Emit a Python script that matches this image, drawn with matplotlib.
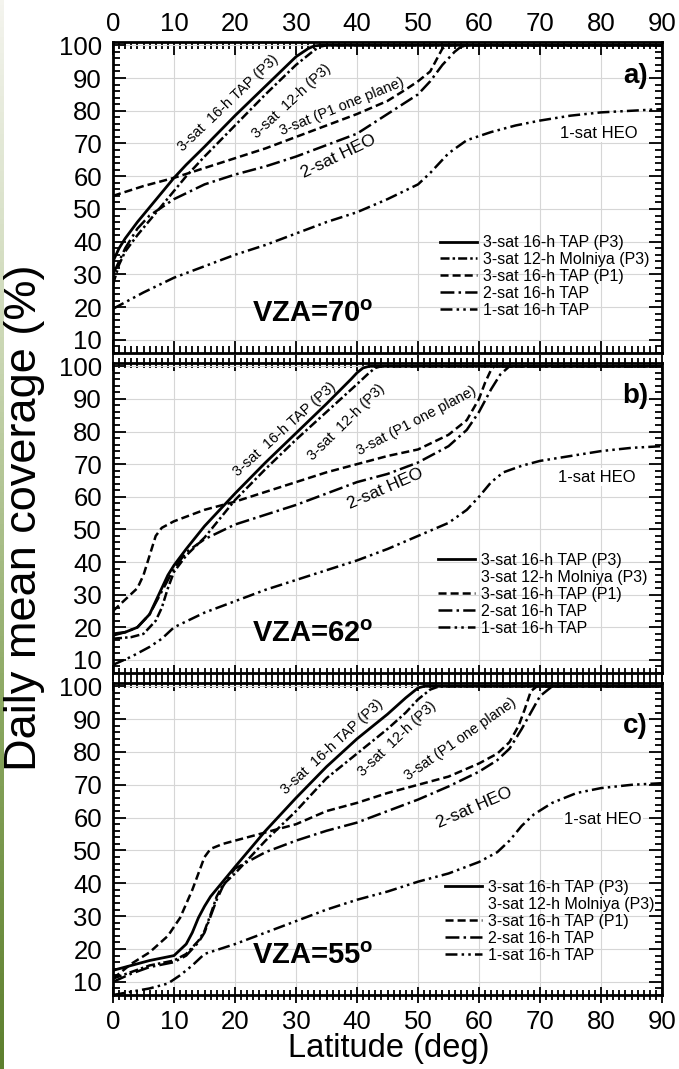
import matplotlib.pyplot as plt
from matplotlib.lines import Line2D
from matplotlib.ticker import MultipleLocator
from matplotlib.colors import LinearSegmentedColormap
import numpy as np

plt.rcParams['font.family'] = ['Liberation Sans', 'DejaVu Sans']
plt.rcParams['mathtext.fontset'] = 'custom'
plt.rcParams['mathtext.rm'] = 'Liberation Sans'
plt.rcParams['mathtext.bf'] = 'Liberation Sans:bold'
plt.rcParams['lines.scale_dashes'] = False

# ---- panel a) VZA=70 ----
a_tap3_lat = [0, 1, 2, 4, 6, 8, 10, 12, 15, 20, 25, 30, 32, 33, 34, 90]
a_tap3_cov = [34, 38, 41, 46, 50.5, 55, 59.5, 63.5, 69, 78.5, 87.5, 96.5, 99, 99.8, 100, 100]
a_mol_lat = [0, 1, 2, 4, 6, 8, 10, 12, 15, 20, 25, 30, 33, 34, 35, 90]
a_mol_cov = [27, 33, 37, 42, 46.5, 51, 55.5, 60, 66, 75.5, 85, 94, 98.5, 99.6, 100, 100]
a_p1_lat = [0, 5, 10, 15, 20, 25, 30, 35, 40, 45, 48, 50, 52, 53, 54, 55, 90]
a_p1_cov = [54, 57, 59.5, 62.5, 65.5, 68.5, 72, 75.5, 79, 83, 86.5, 89, 92, 95.5, 99, 100, 100]
a_two_lat = [0, 1, 2, 4, 6, 8, 10, 15, 20, 25, 30, 35, 40, 45, 50, 52, 54, 56, 57, 58, 90]
a_two_cov = [30, 34, 38, 44, 48, 50.5, 53, 57.5, 60.5, 63, 66, 69.5, 73, 79, 85, 89, 94, 98, 99.5, 100, 100]
a_one_lat = [0, 5, 10, 15, 20, 25, 30, 35, 40, 45, 50, 52, 55, 58, 62, 66, 70, 75, 80, 85, 90]
a_one_cov = [19.5, 24.5, 29, 32.5, 36, 39, 42.5, 46, 49, 53, 57.5, 61, 67, 71, 73.5, 75.5, 77, 78.5, 79.5, 80, 80.5]

# ---- panel b) VZA=62 ----
b_tap3_lat = [0, 2, 4, 6, 7, 8, 9, 10, 12, 15, 20, 25, 30, 35, 39, 40, 41, 42, 90]
b_tap3_cov = [18, 18.5, 20, 24, 28, 32, 36, 39, 44, 51, 61, 70.5, 79.5, 88.5, 96, 98, 99.5, 100, 100]
b_mol_lat = [0, 3, 5, 7, 8, 9, 10, 12, 15, 20, 25, 30, 35, 40, 42, 43, 44, 90]
b_mol_cov = [16.5, 17, 18, 22, 26, 32, 37, 42, 47.5, 59, 68.5, 77.5, 86, 94.5, 98, 99.5, 100, 100]
b_p1_lat = [0, 2, 4, 5, 6, 7, 8, 10, 15, 20, 25, 30, 35, 40, 45, 50, 55, 58, 60, 61, 62, 62.5, 90]
b_p1_cov = [25, 28.5, 32, 36, 42, 48, 50.5, 52.5, 56, 58.5, 61.5, 64.5, 67.5, 70, 72.5, 74.5, 79, 83.5, 90, 95, 99, 100, 100]
b_two_lat = [0, 2, 4, 6, 8, 10, 12, 15, 20, 25, 30, 35, 40, 45, 50, 55, 58, 60, 62, 63.5, 65, 90]
b_two_cov = [17.5, 18.5, 20, 24, 31, 38, 43, 47, 51.5, 54.5, 57.5, 61, 64.5, 67, 70.5, 75.5, 80.5, 86, 93, 97.5, 100, 100]
b_one_lat = [0, 3, 6, 8, 10, 15, 20, 25, 30, 35, 40, 45, 50, 55, 58, 60, 62, 64, 67, 70, 75, 80, 85, 90]
b_one_cov = [8.5, 11, 14, 16.5, 20, 24.5, 28, 31.5, 34.5, 37.5, 40.5, 44, 48, 52, 56, 60, 64.5, 67.5, 69.5, 71, 72.5, 74, 75, 75.5]

# ---- panel c) VZA=55 ----
c_tap3_lat = [0, 3, 6, 10, 12, 13, 14, 15, 16, 18, 20, 25, 30, 35, 40, 45, 48, 50, 51, 90]
c_tap3_cov = [13.5, 15, 16.5, 18, 21.5, 25, 29.5, 33, 36, 40.5, 45, 56, 66, 75.5, 84, 91.5, 96.5, 99.5, 100, 100]
c_mol_lat = [0, 3, 6, 10, 12, 14, 15, 16, 17, 18, 20, 25, 30, 35, 40, 45, 48, 50, 52, 53.5, 90]
c_mol_cov = [11, 13, 15, 16.5, 18.5, 22.5, 25.5, 30.5, 36, 39.5, 43, 53, 62, 72, 79.5, 87, 92, 96, 99, 100, 100]
c_p1_lat = [0, 3, 6, 9, 11, 13, 14, 15, 16, 18, 20, 25, 30, 35, 40, 45, 50, 55, 60, 63, 65, 66.5, 67.5, 68.5, 69.5, 90]
c_p1_cov = [11, 15.5, 19, 24, 29.5, 38, 43, 48, 50.5, 52, 53, 55.5, 58, 62, 64.5, 67.5, 70, 72.5, 76.5, 79.5, 83, 88, 93, 98.5, 100, 100]
c_two_lat = [0, 3, 6, 10, 12, 14, 15, 16, 17, 18, 19, 20, 25, 30, 35, 40, 45, 50, 55, 60, 63, 65, 67, 68.5, 70, 72, 90]
c_two_cov = [10, 12.5, 14.5, 16, 18, 22, 25, 30, 35, 39, 42, 44.5, 49.5, 53, 56, 58.5, 62, 65.5, 69.5, 74, 77.5, 81, 87, 92, 97, 100, 100]
c_one_lat = [0, 3, 6, 9, 11, 13, 15, 20, 25, 30, 35, 40, 45, 50, 55, 60, 63, 65, 67, 69, 72, 76, 80, 85, 90]
c_one_cov = [6, 7, 8, 9.5, 12, 15, 18.5, 21.5, 25, 28.5, 32, 35, 37.5, 40.5, 43, 46.5, 49.5, 53, 57.5, 61, 64.5, 67.5, 69, 70, 70.5]

legend_labels = ['3-sat 16-h TAP (P3)', '3-sat 12-h Molniya (P3)', '3-sat 16-h TAP (P1)',
                 '2-sat 16-h TAP', '1-sat 16-h TAP']
curve_notes = ['3-sat  16-h TAP (P3)', '3-sat  12-h (P3)', '3-sat (P1 one plane)', '2-sat HEO', '1-sat HEO']
vza = ['70', '62', '55']
tags = ['a)', 'b)', 'c)']

# line styles (dash patterns in points)
styles = [
    dict(ls='-', lw=2.0),
    dict(ls=(0, (6.5, 2.2, 1.8, 2.2)), lw=1.8),
    dict(ls=(0, (5.8, 2.9)), lw=1.8),
    dict(ls=(0, (10, 3, 1.8, 3)), lw=1.8),
    dict(ls=(0, (8.6, 3, 1.8, 3, 1.8, 3)), lw=1.8),
]

panels = [
    [(a_tap3_lat, a_tap3_cov), (a_mol_lat, a_mol_cov), (a_p1_lat, a_p1_cov), (a_two_lat, a_two_cov), (a_one_lat, a_one_cov)],
    [(b_tap3_lat, b_tap3_cov), (b_mol_lat, b_mol_cov), (b_p1_lat, b_p1_cov), (b_two_lat, b_two_cov), (b_one_lat, b_one_cov)],
    [(c_tap3_lat, c_tap3_cov), (c_mol_lat, c_mol_cov), (c_p1_lat, c_p1_cov), (c_two_lat, c_two_cov), (c_one_lat, c_one_cov)],
]

# note positions (lat, coverage, angle) for each panel
note_pos = [
    [(18.9, 82.3, 43.6), (29.3, 83.0, 42.8), (37.5, 81.4, 22), (37.0, 66.0, 25.7), (79.7, 73.0, 0)],
    [(28.2, 80.6, 42), (38.3, 82.8, 44.6), (49.8, 83.3, 27.7), (44.6, 62.4, 23.5), (79.3, 66.0, 0)],
    [(36.0, 81.7, 42.6), (46.6, 84.0, 43.5), (56.9, 84.0, 35), (59.3, 63.0, 23.5), (80.3, 59.4, 0)],
]
note_size = [10.5, 10.5, 10.5, 12.5, 12]
tag_y = [90.5, 90.9, 87.8]
leg_anchor = [(0.596, 0.379), (0.592, 0.387), (0.605, 0.369)]

W, H = 679, 1069
fig = plt.figure(figsize=(W / 100, H / 100), dpi=100)

# green strip on the left edge
strip = fig.add_axes([0, 0, 4 / W, 1])
cmap = LinearSegmentedColormap.from_list('g', ['#f4f4ee', '#c9d6b2', '#8aa760', '#5d7f2e'])
strip.imshow(np.linspace(0, 1, 200).reshape(-1, 1), aspect='auto', cmap=cmap)
strip.axis('off')

boxes = [(42, 353), (363, 673), (683, 995)]
left, right = 113, 662
axes = []
for i, (top, bot) in enumerate(boxes):
    ax = fig.add_axes([left / W, 1 - bot / H, (right - left) / W, (bot - top) / H])
    axes.append(ax)
    for j, (lat, cov) in enumerate(panels[i]):
        ax.plot(lat, cov, color='black', solid_capstyle='butt', **styles[j])

    ax.set_xlim(0, 90)
    ax.set_ylim(6, 101)
    ax.xaxis.set_major_locator(MultipleLocator(10))
    ax.xaxis.set_minor_locator(MultipleLocator(1))
    ax.yaxis.set_major_locator(MultipleLocator(10))
    ax.yaxis.set_minor_locator(MultipleLocator(2))
    ax.set_yticks(range(10, 101, 10))
    ax.grid(True, which='major', color='#d6d6d6', lw=0.8)
    ax.set_axisbelow(True)
    for s in ax.spines.values():
        s.set_linewidth(2.0)

    ax.tick_params(axis='y', which='both', direction='in', left=True, right=True,
                   labelsize=18.5, pad=8, width=1.3)
    ax.tick_params(axis='y', which='major', length=9.5)
    ax.tick_params(axis='y', which='minor', length=5)
    ax.tick_params(axis='x', which='both', top=True, bottom=True, labelsize=18.5, width=1.3,
                   labeltop=(i == 0), labelbottom=(i == 2), pad=4.5)
    ax.tick_params(axis='x', which='major', length=9.5, direction='in')
    ax.tick_params(axis='x', which='minor', length=5, direction='in')
    # inner edges use ticks crossing the spine
    if i > 0:
        ax.xaxis.set_tick_params(which='major', direction='inout', length=12, top=True)
        ax.xaxis.set_tick_params(which='minor', direction='inout', length=7, top=True)

    # curve notes
    for k, (x, y, ang) in enumerate(note_pos[i]):
        kw = {}
        if k == 4:
            kw['bbox'] = dict(facecolor='white', edgecolor='none', pad=1)
        ax.text(x, y, curve_notes[k], fontsize=note_size[k], rotation=ang,
                rotation_mode='anchor', ha='center', va='center', **kw)

    ax.text(85.6, tag_y[i], tags[i], fontsize=20, fontweight='bold', ha='center', va='center')
    ax.text(32.8, 18, 'VZA=' + vza[i] + r'$^{\mathbf{o}}$', fontsize=21, fontweight='bold',
            ha='center', va='center')

    handles = []
    for j in range(5):
        if j == 1 and i > 0:
            handles.append(Line2D([], [], ls='none'))
        else:
            handles.append(Line2D([], [], color='black', **styles[j]))
    ax.legend(handles, legend_labels, loc='upper left', bbox_to_anchor=leg_anchor[i],
              frameon=False, fontsize=11.5, handlelength=2.3, handletextpad=0.4,
              labelspacing=0.12, borderpad=0, borderaxespad=0)

fig.text(389 / W, 1 - 1057 / H, 'Latitude (deg)', fontsize=23.5, ha='center', va='baseline')
fig.text(25 / W, 1 - 518 / H, 'Daily mean coverage (%)', rotation=90, fontsize=32.5,
         ha='center', va='center')

fig.savefig('out.png', dpi=100)
